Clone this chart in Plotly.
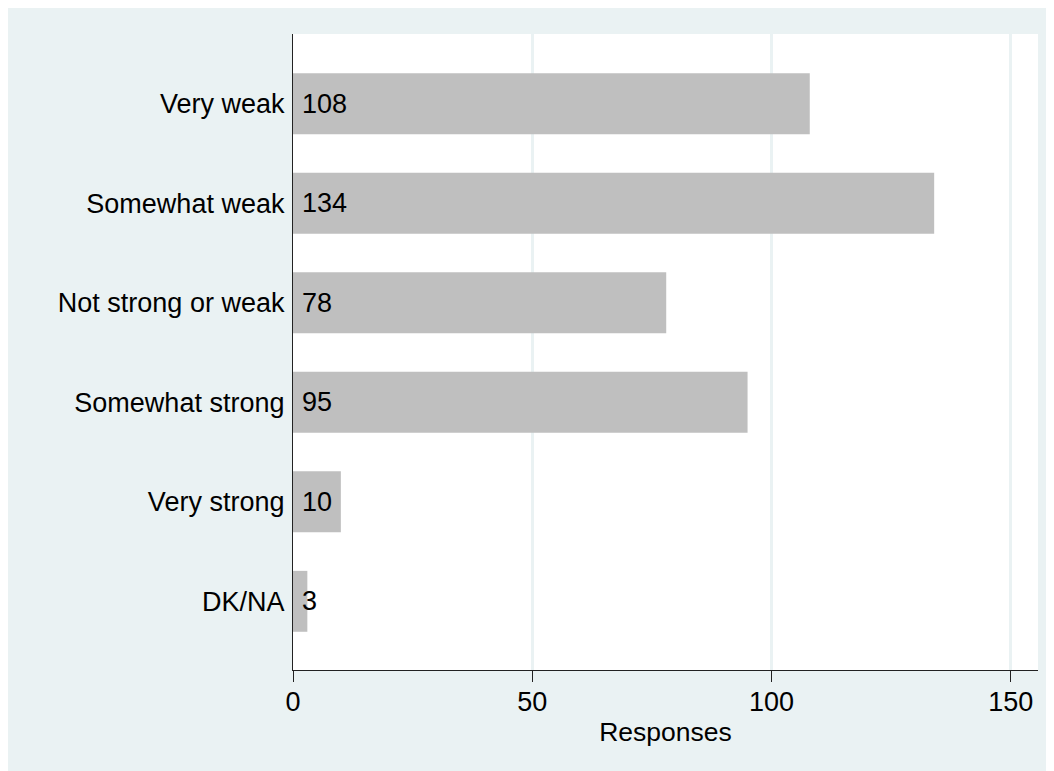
import plotly.graph_objects as go

categories = ["Very weak", "Somewhat weak", "Not strong or weak",
              "Somewhat strong", "Very strong", "DK/NA"]
responses = [108, 134, 78, 95, 10, 3]
x_ticks = [0, 50, 100, 150]
x_title = "Responses"

FONT = "Liberation Sans, Arial, Helvetica, sans-serif"
BG = "#EAF2F3"

fig = go.Figure()
fig.add_trace(go.Bar(
    x=responses, y=categories, orientation="h",
    marker=dict(color="#BFBFBF", line=dict(width=0)),
    showlegend=False, hoverinfo="skip",
))

annotations = [
    dict(x=0, y=c, xref="x", yref="y", text=str(v), showarrow=False,
         xanchor="left", yanchor="middle", xshift=7,
         font=dict(family=FONT, size=27, color="black"))
    for c, v in zip(categories, responses)
]

fig.update_layout(
    width=1054, height=771,
    margin=dict(l=285, r=24, t=26, b=109),
    paper_bgcolor=BG, plot_bgcolor="white",
    bargap=0.388,
    font=dict(family=FONT, size=27, color="black"),
    annotations=annotations,
    xaxis=dict(
        range=[0, 155.7], tickvals=x_ticks, ticktext=[str(t) for t in x_ticks],
        showgrid=True, gridcolor=BG, gridwidth=2.5, zeroline=False,
        showline=True, linecolor="#222", linewidth=1.3,
        ticks="outside", ticklen=11, tickcolor="#222", tickwidth=1.3,
        tickfont=dict(size=27), ticklabelstandoff=-4,
        title=dict(text=x_title, font=dict(size=26.5), standoff=6),
    ),
    yaxis=dict(
        type="category", categoryorder="array", categoryarray=categories,
        range=[5.69, -0.70],
        showgrid=False, zeroline=False,
        showline=True, linecolor="#222", linewidth=1.3,
        ticks="outside", ticklen=2, tickcolor="rgba(0,0,0,0)",
        tickfont=dict(size=27),
    ),
)

fig.write_html("out.html")
